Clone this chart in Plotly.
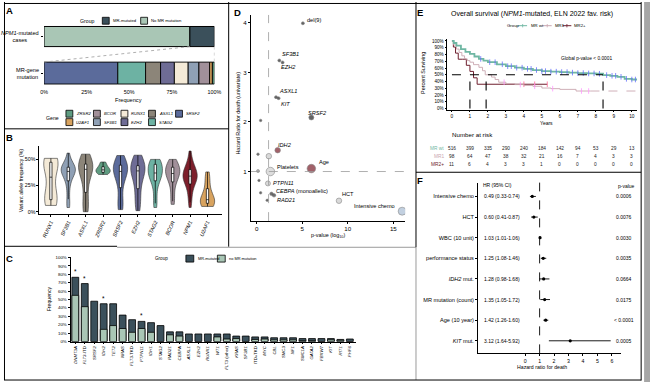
import numpy as np
import plotly.graph_objects as go

W, H = 657, 385
FONT = "Liberation Sans, Arial, sans-serif"


def fx(x):
    return x / W


def fy(y):
    return 1 - y / H


# ======================= DATA =======================
# ---- Panel A ----
a_group_names = ["No MR mutation", "MR-mutated"]
a_group_share = [0.856, 0.144]
a_genes = ["SRSF2", "STAG2", "ASXL1", "EZH2", "RUNX1", "SF3B1", "BCOR", "U2AF1", "ZRSR2"]
a_gene_share = [0.433, 0.163, 0.088, 0.081, 0.081, 0.063, 0.063, 0.016, 0.012]
a_ticks = [0, 0.25, 0.5, 0.75, 1.0]
a_ticklabels = ["0%", "25%", "50%", "75%", "100%"]
a_rows = ["MR-gene<br>mutation", "<i>NPM1</i>-mutated<br>cases"]
a_legend_rows = [["ZRSR2", "BCOR", "RUNX1", "ASXL1", "SRSF2"],
                 ["U2AF1", "SF3B1", "EZH2", "STAG2"]]

# ---- Panel B (variant allele frequency, %) ----
b_genes = ["RUNX1", "SF3B1", "ASXL1", "ZRSR2", "SRSF2", "EZH2", "STAG2", "BCOR", "NPM1", "U2AF1"]
b_vaf_runx1 = [51, 50.5, 50, 49, 48, 47, 46, 45, 44, 40, 33, 26, 20, 16, 14, 12, 10, 9, 8, 7, 6]
b_vaf_sf3b1 = [56, 50, 47, 45, 44, 43, 42, 42, 41, 40, 40, 39, 38, 37, 36, 35, 33, 31, 28, 24, 18, 12, 6, 4]
b_vaf_asxl1 = [55, 50, 48, 47, 46, 46, 45, 44, 44, 43, 42, 41, 40, 39, 37, 34, 28, 22, 15, 10, 6, 3, 1, 0]
b_vaf_zrsr2 = [47.5, 46, 44, 42, 41, 40, 40, 39, 38, 37, 36, 35.6]
b_vaf_srsf2 = [53.7, 50, 48, 47, 46, 45, 45, 44, 43, 42, 41, 40, 40, 39, 38, 37, 36, 34, 32, 30, 26, 20, 14,
               8, 6, 5, 4, 2]
b_vaf_ezh2 = [54, 50, 48, 46, 45, 44, 43, 42, 41, 40, 40, 38, 36, 34, 30, 26, 22, 17, 12, 8, 4, 1]
b_vaf_stag2 = [50, 49, 48, 47, 46, 45, 43, 41, 40, 38, 37, 36, 35, 34, 32, 30, 28, 22, 14, 8, 4]
b_vaf_bcor = [50, 48, 46, 44, 43, 42, 41, 40, 38, 37, 36, 35, 34, 32, 30, 27, 22, 16, 10, 7]
b_vaf_npm1 = [58, 52, 48, 46, 44, 42, 41, 40, 39, 38, 37, 36, 35, 34, 34, 33, 32, 31, 30, 29, 28, 27, 25,
              23, 20, 17, 13, 9, 4]
b_vaf_u2af1 = [38, 33, 28, 22, 17, 14, 12, 11, 10, 9, 8, 7, 6, 5]
b_vaf = [b_vaf_runx1, b_vaf_sf3b1, b_vaf_asxl1, b_vaf_zrsr2, b_vaf_srsf2, b_vaf_ezh2,
         b_vaf_stag2, b_vaf_bcor, b_vaf_npm1, b_vaf_u2af1]
b_ticks = [0, 25, 50]
b_ticklabels = ["0%", "25%", "50%"]

# ---- Panel C (frequency %, per group) ----
c_genes = ["DNMT3A", "FLT3-ITD", "SRSF2", "IDH2", "TET2", "NRAS", "FLT3-TKD", "PTPN11", "IDH1", "STAG2",
           "RAD21", "CEBPA", "ASXL1", "EZH2", "RUNX1", "WT1", "FLT3 (other)", "KRAS", "SF3B1", "ITD+TKD",
           "MYC", "CBL", "SMC3", "NF1", "SMC1A", "GATA2", "FBXW7", "KIT", "RIT1", "PHF6"]
c_labels = ["<i>DNMT3A</i>", "<i>FLT3</i>-ITD", "<i>SRSF2</i>", "<i>IDH2</i>", "<i>TET2</i>", "<i>NRAS</i>",
            "<i>FLT3</i>-TKD", "<i>PTPN11</i>", "<i>IDH1</i>", "<i>STAG2</i>", "<i>RAD21</i>", "<i>CEBPA</i>",
            "<i>ASXL1</i>", "<i>EZH2</i>", "<i>RUNX1</i>", "<i>WT1</i>", "<i>FLT3</i> (other)", "<i>KRAS</i>",
            "<i>SF3B1</i>", "ITD+TKD", "<i>MYC</i>", "<i>CBL</i>", "<i>SMC3</i>", "<i>NF1</i>", "<i>SMC1A</i>",
            "<i>GATA2</i>", "<i>FBXW7</i>", "<i>KIT</i>", "<i>RIT1</i>", "<i>PHF6</i>"]
c_freq_mr = [76.5, 69, 48, 45, 45, 31.5, 26, 24, 22.5, 19, 11.5, 11.5, 9, 9, 9, 9, 9, 6.5, 6.5, 5.5,
             5.5, 4.5, 4.5, 4.5, 3.5, 3.5, 3.5, 3.5, 2.5, 3]
c_freq_no = [55, 41.5, 0, 14.5, 19, 15.5, 11, 15.5, 11, 0, 8, 6.5, 0, 0, 0, 5.5, 3, 3.5, 0, 2.5,
             3, 2, 2, 2, 1, 1, 0, 2, 1.5, 0]
c_significant = ["DNMT3A", "FLT3-ITD", "IDH2", "PTPN11"]
c_ticks = [0, 10, 20, 30, 40, 50, 60, 70, 80, 90, 100]
c_ticklabels = ["0%", "10%", "20%", "30%", "40%", "50%", "60%", "70%", "80%", "90%", "100%"]

# ---- Panel D (univariate HR vs -log10 p) ----
d_names = ["del(9)", "<i>SF3B1</i>", "<i>EZH2</i>", "<i>ASXL1</i>", "<i>KIT</i>", "<i>SRSF2</i>", "",
           "<i>IDH2</i>", "", "", "", "Platelets", "Age", "", "<i>PTPN11</i>", "",
           "<i>CEBPA</i> (monoallelic)", "", "<i>RAD21</i>", "HCT", "Intensive chemo"]
d_logp = [5.07, 2.48, 2.84, 2.12, 2.40, 6.0, 0.43, 2.30, 1.33, 0.14, 0.14, 1.50, 6.0, 0.25, 1.23, 0.43,
          1.62, 1.90, 1.15, 9.03, 15.97]
d_hr = [3.99, 3.24, 3.20, 2.50, 2.48, 2.09, 2.03, 1.43, 1.31, 1.35, 1.01, 1.00, 1.06, 0.82, 0.76, 0.57,
        0.55, 0.52, 0.42, 0.41, 0.20]
d_p_threshold = 0.05
d_xticks = [0, 5, 10, 15]
d_yticks = [1, 2, 3, 4]

# ---- Panel E (Kaplan-Meier, % surviving) ----
e_groups = ["MR wt", "MR1", "MR2+"]
e_t_wt = [0, 0.1, 0.25, 0.5, 0.75, 1.0, 1.25, 1.5, 1.75, 2.0, 2.5, 3.0, 3.5, 4.0, 4.5, 5.0, 5.5, 6.0,
          6.5, 7.0, 7.5, 8.0, 8.4, 8.8, 9.2, 9.6, 10.0, 10.3]
e_s_wt = [100, 97, 93, 88, 84, 81, 77, 73.5, 71, 68.6, 65.5, 62.7, 60.5, 58.8, 57, 55.4, 54.6, 54,
          53.2, 52.5, 52, 51.5, 49.5, 48.5, 47, 44, 43, 43]
e_cens_wt = [1.6, 2.1, 2.4, 2.8, 3.1, 3.3, 3.6, 3.9, 4.2, 4.4, 4.7, 5.0, 5.2, 5.5, 5.8, 6.1, 6.4, 6.7,
             7.0, 7.3, 7.6, 7.9, 8.2, 8.6, 8.9, 9.1, 9.4, 9.7, 10.0, 10.2]
e_t_mr1 = [0, 0.1, 0.25, 0.4, 0.55, 0.7, 0.85, 1.0, 1.2, 1.5, 1.7, 1.85, 2.2, 2.4, 2.6, 3.0, 3.5, 4.0,
           4.5, 5.0, 5.5, 6.0, 6.9, 7.7]
e_s_mr1 = [100, 94, 88, 83, 78, 73.5, 71, 68.6, 65, 61, 56, 50, 46.6, 43, 39, 36.8, 35.5, 34.3, 33,
           30.4, 29.5, 28.4, 26, 26]
e_tail_mr1 = [7.7, 10.3]
e_cens_mr1 = [2.9, 3.8, 4.6, 5.6, 7.2, 7.6]
e_t_mr2 = [0, 0.08, 0.2, 0.35, 0.6, 0.8, 1.0, 1.2, 1.4, 5.3]
e_s_mr2 = [100, 91, 82, 73, 73, 64, 55, 45.5, 36, 36]
e_cens_mr2 = [4.0, 4.6, 5.3]
e_median = [8.4, 1.9, 1.0]
e_years = list(range(11))
e_risk_wt = [516, 399, 335, 290, 240, 184, 142, 94, 53, 29, 13]
e_risk_mr1 = [98, 64, 47, 38, 32, 21, 16, 7, 4, 3, 3]
e_risk_mr2 = [11, 6, 4, 3, 3, 1, 0, 0, 0, 0, 0]
e_yticks = [0, 10, 20, 30, 40, 50, 60, 70, 80, 90, 100]
e_yticklabels = ["0%", "10%", "20%", "30%", "40%", "50%", "60%", "70%", "80%", "90%", "100%"]

# ---- Panel F (multivariable Cox) ----
f_labels = ["Intensive chemo", "HCT", "WBC (10 unit)", "performance status", "<i>IDH2</i> mut.",
            "MR mutation (count)", "Age (10 year)", "<i>KIT</i> mut."]
f_hr = [0.49, 0.60, 1.03, 1.25, 1.28, 1.35, 1.42, 3.12]
f_lo = [0.33, 0.41, 1.01, 1.08, 0.98, 1.05, 1.26, 1.64]
f_hi = [0.74, 0.87, 1.06, 1.46, 1.68, 1.72, 1.60, 5.92]
f_p = ["0.0006", "0.0076", "0.0030", "0.0035", "0.0664", "0.0175", "< 0.0001", "0.0005"]
f_xticks = [0, 1, 2, 3, 4, 5, 6]

# ======================= STYLES =======================
GENE_COL = {"SRSF2": "#5B6B9B", "STAG2": "#6DB2A3", "ASXL1": "#8C8579", "EZH2": "#6E6C95",
            "RUNX1": "#F4EAD7", "SF3B1": "#8FA0B5", "BCOR": "#A1909A", "U2AF1": "#D8A35F",
            "ZRSR2": "#5F9C81", "NPM1": "#7D1F2B"}
DARK = "#3B505B"
LIGHT = "#A9C6B5"
GRAYB = "#9A9A9A"
E_COL = {"MR wt": "#6FB7A3", "MR1": "#C9A7B0", "MR2+": "#6E1F2E"}
RED = "#7A1F2B"

ann = []
shapes = []


def T(x, y, text, size=6.0, xa="center", ya="middle", color="black", angle=0,
      xref="paper", yref="paper", xshift=0, yshift=0, align="center"):
    ann.append(dict(x=fx(x) if xref == "paper" else x, y=fy(y) if yref == "paper" else y,
                    xref=xref, yref=yref, text=text, showarrow=False, xanchor=xa, yanchor=ya,
                    font=dict(size=size, color=color, family=FONT), textangle=angle,
                    xshift=xshift, yshift=yshift, align=align, borderpad=0))


def L(x0, y0, x1, y1, color="black", width=1.0, dash="solid"):
    shapes.append(dict(type="line", xref="paper", yref="paper", x0=fx(x0), y0=fy(y0),
                       x1=fx(x1), y1=fy(y1), line=dict(color=color, width=width, dash=dash)))


def R(x0, y0, x1, y1, fill, line="black", lw=0.8):
    shapes.append(dict(type="rect", xref="paper", yref="paper", x0=fx(x0), y0=fy(y0),
                       x1=fx(x1), y1=fy(y1), fillcolor=fill, line=dict(color=line, width=lw)))


def ax(domain, rng, size, **kw):
    d = dict(domain=domain, range=rng, showline=True, linecolor="black", linewidth=0.8,
             ticks="outside", ticklen=2, tickwidth=0.7, tickcolor="black", showgrid=False,
             zeroline=False, tickfont=dict(size=size, family=FONT, color="black"), fixedrange=True)
    d.update(kw)
    return d


fig = go.Figure()

# ======================= PANEL A =======================
bw1, bw2 = 0.55, 0.6
fig.add_bar(x=[a_group_share[0]], base=[0], y=[1], orientation="h", width=bw1,
            marker=dict(color=LIGHT, line=dict(color="black", width=1)), xaxis="x", yaxis="y",
            showlegend=False, hoverinfo="skip")
fig.add_bar(x=[a_group_share[1]], base=[a_group_share[0]], y=[1], orientation="h", width=bw1,
            marker=dict(color=DARK, line=dict(color="black", width=1)), xaxis="x", yaxis="y",
            showlegend=False, hoverinfo="skip")
a_base = np.concatenate([[0], np.cumsum(a_gene_share)[:-1]])
for g, s, b in zip(a_genes, a_gene_share, a_base):
    fig.add_bar(x=[s], base=[b], y=[0], orientation="h", width=bw2,
                marker=dict(color=GENE_COL[g], line=dict(color="black", width=0.9)),
                xaxis="x", yaxis="y", showlegend=False, hoverinfo="skip")
for xa0, xa1 in [(a_group_share[0], 0), (1.0, 1.0)]:
    shapes.append(dict(type="line", xref="x", yref="y", x0=xa0, y0=1 - bw1 / 2, x1=xa1, y1=bw2 / 2,
                       line=dict(color="#9a9a9a", width=0.8, dash="dot")))
for yv, txt in zip([0, 1], a_rows):
    T(37, yv, txt, size=5.6, xa="right", yref="y", align="center")
T(127, 99.5, "Frequency", size=5.6)
T(85, 19, "Group", size=5.2)
R(100, 15.5, 107, 22.5, DARK)
T(110, 19, "MR-mutated", size=4.2, xa="left")
R(139, 15.5, 146, 22.5, LIGHT)
T(148.5, 19, "No MR mutation", size=4.2, xa="left")
T(49, 117.5, "Gene", size=5.2)
col_x = [63, 91, 119, 147, 174.5]
row_y = [113.2, 121.7]
for r, row in enumerate(a_legend_rows):
    for c, g in enumerate(row):
        R(col_x[c], row_y[r] - 3.5, col_x[c] + 7, row_y[r] + 3.5, GENE_COL[g])
        T(col_x[c] + 9.5, row_y[r], "<i>" + g + "</i>", size=4.2, xa="left")

# ======================= PANEL B =======================
for i, (g, vals) in enumerate(zip(b_genes, b_vaf)):
    fig.add_trace(go.Violin(x0=i, y=vals, xaxis="x2", yaxis="y2", fillcolor=GENE_COL[g],
                            line=dict(color="#333333", width=0.6), width=0.82, spanmode="hard",
                            points=False, opacity=1, showlegend=False, hoverinfo="skip",
                            box=dict(visible=True, width=0.16, fillcolor="white",
                                     line=dict(color="black", width=0.7)),
                            meanline=dict(visible=False)))
T(17, 181, "Variant allele frequency (%)", size=5.2, angle=-90)

# ======================= PANEL C =======================
xc = np.arange(len(c_genes))
fig.add_bar(x=xc, y=c_freq_mr, width=0.72, xaxis="x3", yaxis="y3", showlegend=False,
            marker=dict(color=DARK, line=dict(color="black", width=0.8)), hoverinfo="skip")
fig.add_bar(x=xc, y=c_freq_no, width=0.72, xaxis="x3", yaxis="y3", showlegend=False,
            marker=dict(color=LIGHT, line=dict(color="black", width=0.8)), hoverinfo="skip")
for g in c_significant:
    k = c_genes.index(g)
    ann.append(dict(x=k, y=c_freq_mr[k], xref="x3", yref="y3", text="*", showarrow=False,
                    yanchor="bottom", yshift=0, font=dict(size=6.5, family=FONT, color="black")))
T(46, 301, "Frequency", size=5.2, angle=-90)
T(160, 260, "Group", size=4.6)
R(185, 256.5, 193, 263.5, DARK)
T(196, 260, "MR-mutated", size=3.9, xa="left")
R(217, 256.5, 225, 263.5, LIGHT)
T(228, 260, "no MR mutation", size=3.9, xa="left")

# ======================= PANEL D =======================
d_size = [3, 3, 3, 3, 3, 5, 2.5, 5.5, 5.5, 2.5, 3, 8.5, 8.5, 2.5, 5, 2.5, 3.5, 3.5, 2.5, 5.5, 8]
d_fill = ["#222", "#222", "#222", "#222", "#222", "#222", "#222", RED, "#C9C9C9", "#222", "#888",
          "#CFCFCF", RED, "#222", "#C9C9C9", "#222", "#333", "#333", "#222", "#C9C9C9", "#A9BDD3"]
fig.add_scatter(x=d_logp, y=d_hr, mode="markers", xaxis="x4", yaxis="y4", showlegend=False,
                hoverinfo="skip",
                marker=dict(size=d_size, color=d_fill, line=dict(color="#555", width=0.6)))
d_lab_pos = [("left", 2, 3), ("left", 1, 6), ("left", -4, -5), ("left", 1, 6), ("left", 0, -5.5),
             ("left", -5, 4.5), None, ("left", -1.5, 5.5), None, None, None, ("left", 5, 5),
             ("left", 6, 6.5), None, ("left", 3.5, 0), None, ("left", 3, 3), None, ("left", 8, 0.5),
             ("left", 1, 6.5), ("right", -5, 5.5)]
for nm, xv, yv, pos in zip(d_names, d_logp, d_hr, d_lab_pos):
    if nm and pos:
        ann.append(dict(x=xv, y=yv, xref="x4", yref="y4", text=nm, showarrow=False, xanchor=pos[0],
                        yanchor="middle", xshift=pos[1], yshift=pos[2],
                        font=dict(size=5.6, family=FONT, color="black")))
thr = -np.log10(d_p_threshold)
shapes.append(dict(type="line", xref="x4", yref="y4", x0=thr, x1=thr, y0=0, y1=4.16,
                   line=dict(color="#9a9a9a", width=0.8, dash="dash")))
shapes.append(dict(type="line", xref="x4", yref="y4", x0=-0.65, x1=16.3, y0=1, y1=1,
                   line=dict(color="#9a9a9a", width=0.8, dash="dash")))
T(238, 113, "Hazard Ratio for death (univariate)", size=5.4, angle=-90)
T(330, 236.5, "p-value (log<sub>10</sub>)", size=5.4)

# ======================= PANEL E =======================


def step_at(ts, ss, t):
    i = np.searchsorted(np.asarray(ts), t, side="right") - 1
    return np.asarray(ss)[i]


curves = [(e_t_wt, e_s_wt, e_cens_wt, "MR wt", 1.8), (e_t_mr1, e_s_mr1, e_cens_mr1, "MR1", 0.9),
          (e_t_mr2, e_s_mr2, e_cens_mr2, "MR2+", 1.0)]
fig.add_scatter(x=e_tail_mr1, y=[step_at(e_t_mr1, e_s_mr1, e_tail_mr1[0])] * 2, mode="lines",
                xaxis="x5", yaxis="y5", showlegend=False, hoverinfo="skip",
                line=dict(color=E_COL["MR1"], width=0.9, dash="dash"))
for ts, ss, cs, nm, lw in curves[::-1]:
    fig.add_scatter(x=ts, y=ss, mode="lines", xaxis="x5", yaxis="y5", showlegend=False,
                    hoverinfo="skip", line=dict(color=E_COL[nm], width=lw, shape="hv"))
    cy = [step_at(ts, ss, c) if c <= ts[-1] else ss[-1] for c in cs]
    fig.add_scatter(x=cs, y=cy, mode="markers", xaxis="x5", yaxis="y5", showlegend=False,
                    hoverinfo="skip", marker=dict(symbol="line-ns-open", size=4,
                                                  line=dict(color=E_COL[nm], width=0.8)))
for m in e_median:
    shapes.append(dict(type="line", xref="x5", yref="y5", x0=m, x1=m, y0=0, y1=50,
                       line=dict(color="black", width=1.1, dash="dash")))
shapes.append(dict(type="line", xref="x5", yref="y5", x0=0, x1=max(e_median), y0=50, y1=50,
                   line=dict(color="black", width=1.1, dash="dash")))
T(537, 12, "Overall survival (<i>NPM1</i>-mutated, ELN 2022 fav. risk)", size=7)
T(592, 57, "Global p-value < 0.0001", size=4.8)
T(426, 72, "Percent Surviving", size=5.4, angle=-90)
T(552, 122.5, "Years", size=5.0)
T(511, 24, "Group", size=4.3, xa="left")
leg = [(523, "MR wt", 535), (548, "MR1", 559), (568, "MR2+", 579)]
for x0, nm, tx in leg:
    L(x0, 24, x0 + 9, 24, color=E_COL[nm], width=1)
    L(x0 + 4.5, 22.3, x0 + 4.5, 25.7, color=E_COL[nm], width=0.8)
    T(tx, 24, nm, size=4.3, xa="left")
T(455, 134, "Number at risk", size=6.2, xa="left")
for yy, nm, vals in [(148.5, "MR wt", e_risk_wt), (156.5, "MR1", e_risk_mr1),
                     (164.5, "MR2+", e_risk_mr2)]:
    T(449, yy, nm, size=4.8, xa="right", color=E_COL[nm])
    for yr, v in zip(e_years, vals):
        ann.append(dict(x=yr, y=fy(yy), xref="x5", yref="paper", text=str(v), showarrow=False,
                        xanchor="center", yanchor="middle",
                        font=dict(size=4.8, family=FONT, color="#222")))

# ======================= PANEL F =======================
rows = list(range(len(f_labels)))
fig.add_scatter(x=f_hr, y=rows, mode="markers", xaxis="x6", yaxis="y6", showlegend=False,
                hoverinfo="skip", marker=dict(size=3.2, color="black", symbol="circle"),
                error_x=dict(type="data", symmetric=False, array=np.subtract(f_hi, f_hr),
                             arrayminus=np.subtract(f_hr, f_lo), width=0, color="black",
                             thickness=0.9))
shapes.append(dict(type="line", xref="x6", yref="paper", x0=1, x1=1, y0=fy(356), y1=fy(183),
                   line=dict(color="black", width=0.9, dash="dash")))
for k, (h, lo, hi, p) in enumerate(zip(f_hr, f_lo, f_hi, f_p)):
    ann.append(dict(x=fx(486), y=k, xref="paper", yref="y6",
                    text=f"{h:.2f} ({lo:.2f}-{hi:.2f})", showarrow=False, xanchor="left",
                    yanchor="middle", font=dict(size=5.0, family=FONT, color="black")))
    ann.append(dict(x=fx(631), y=k, xref="paper", yref="y6", text=p, showarrow=False,
                    xanchor="center", yanchor="middle", font=dict(size=5.0, family=FONT, color="black")))
T(502, 185.5, "HR (95% CI)", size=5.0)
T(633, 186, "p-value", size=5.0)
T(547, 370, "Hazard ratio for death", size=5.2)

# ======================= PANEL LETTERS & BORDERS =======================
for lt, x, y in [("A", 6, 9), ("B", 6, 137), ("C", 6, 260), ("D", 237, 11), ("E", 423, 11),
                 ("F", 423, 181)]:
    T(x, y, "<b>" + lt + "</b>", size=9.5, xa="center")

L(0, 1.5, 648, 1.5)
L(0.5, 0, 0.5, 383)
L(0, 128.5, 228.5, 128.5)
L(228.5, 0, 228.5, 248)
L(0, 247.5, 115, 247.5)
L(115, 248.5, 419, 248.5, color=GRAYB)
L(419, 0, 419, 248.5)
L(419, 248.5, 419, 383, color=GRAYB)
L(419, 172.5, 648, 172.5)
L(648, 0, 648, 383.5)
L(0, 383, 648, 383)
R(651, 0, 657, 385, "#A6A6A6", line="#A6A6A6", lw=0)

# ======================= LAYOUT =======================
fig.update_layout(
    width=W, height=H, autosize=False, margin=dict(l=0, r=0, t=0, b=0),
    paper_bgcolor="white", plot_bgcolor="white", barmode="overlay", showlegend=False,
    font=dict(family=FONT, color="black"), violinmode="overlay",
    xaxis=ax([fx(40.7), fx(214)], [0, 1], 5.4, anchor="y", showline=False, ticks="",
             tickvals=a_ticks, ticktext=a_ticklabels),
    yaxis=ax([fy(87), fy(20)], [-0.405, 1.405], 5, anchor="x", showline=False,
             showticklabels=False, tickvals=[0, 1]),
    xaxis2=ax([fx(36), fx(222)], [-0.66, 9.85], 5.3, anchor="y2", tickvals=list(range(10)),
              ticktext=["<i>" + g + "</i>" for g in b_genes], tickangle=-65),
    yaxis2=ax([fy(215), fy(146)], [-2.4, 62.7], 5.3, anchor="x2", tickvals=b_ticks,
              ticktext=b_ticklabels),
    xaxis3=ax([fx(67.7), fx(358)], [-0.5, 29.65], 4.3, anchor="y3", tickvals=list(xc),
              ticktext=c_labels, tickangle=-90),
    yaxis3=ax([fy(344), fy(258.5)], [0, 100.5], 4.4, anchor="x3", tickvals=c_ticks,
              ticktext=c_ticklabels),
    xaxis4=ax([fx(251), fx(408)], [-0.65, 16.3], 6.2, anchor="y4", tickvals=d_xticks),
    yaxis4=ax([fy(222), fy(13)], [0, 4.16], 6.2, anchor="x4", tickvals=d_yticks),
    xaxis5=ax([fx(451), fx(644)], [-0.25, 10.3], 4.8, anchor="y5", tickvals=e_years),
    yaxis5=ax([fy(109), fy(37)], [-1.45, 103.6], 4.6, anchor="x5", tickvals=e_yticks,
              ticktext=e_yticklabels),
    xaxis6=ax([fx(482), fx(627)], [-3.27, 6.6], 5.2, anchor="y6", tickvals=f_xticks),
    yaxis6=ax([fy(356), fy(183)], [7.61, -0.67], 5.6, anchor="x6", tickvals=rows,
              ticktext=f_labels),
    annotations=ann, shapes=shapes,
)

fig.write_html("out.html", config={"displayModeBar": False},
               post_script="document.body.style.margin='0';document.body.style.overflow='hidden';")
